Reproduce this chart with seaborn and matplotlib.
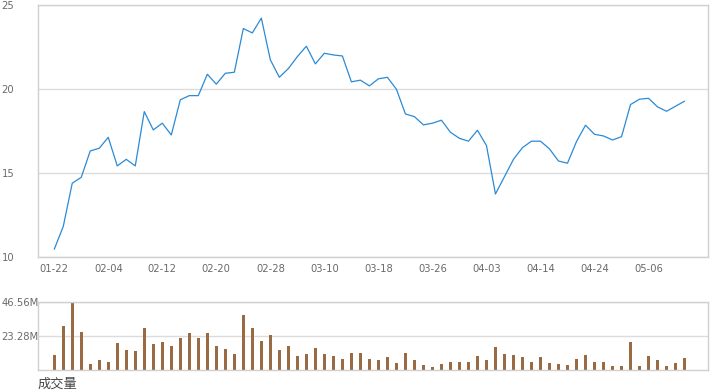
import numpy as np
import pandas as pd
import matplotlib
matplotlib.use('Agg')
import matplotlib.pyplot as plt
import seaborn as sns

# daily close price (71 trading days)
price = [10.44, 11.79, 14.37, 14.72, 16.29, 16.45, 17.10, 15.40, 15.79, 15.40,
         18.63, 17.54, 17.94, 17.24, 19.33, 19.58, 19.58, 20.85, 20.26, 20.91,
         20.97, 23.57, 23.31, 24.19, 21.71, 20.67, 21.19, 21.90, 22.52, 21.47,
         22.10, 22.00, 21.94, 20.40, 20.50, 20.16, 20.58, 20.67, 19.96, 18.49,
         18.33, 17.84, 17.94, 18.12, 17.40, 17.04, 16.87, 17.52, 16.61, 13.73,
         14.76, 15.79, 16.49, 16.87, 16.87, 16.41, 15.69, 15.56, 16.85, 17.82,
         17.28, 17.18, 16.94, 17.14, 19.05, 19.37, 19.42, 18.91, 18.65, 18.95,
         19.25]

# daily volume, millions
volume = [10.32, 30.28, 46.56, 26.15, 4.13, 6.88, 5.50, 18.58, 13.76, 13.07,
          28.90, 17.89, 19.27, 16.51, 22.02, 25.46, 22.02, 25.46, 16.51, 14.45,
          11.01, 37.84, 28.90, 19.95, 24.08, 13.76, 16.51, 9.63, 11.01, 15.14,
          11.01, 9.63, 7.57, 11.70, 11.70, 7.57, 6.88, 8.94, 4.82, 11.70,
          6.88, 3.44, 2.06, 4.13, 5.50, 5.50, 5.50, 9.63, 6.88, 15.83,
          11.01, 10.32, 8.94, 5.50, 8.94, 4.82, 4.13, 3.44, 7.57, 10.32,
          5.50, 5.50, 2.75, 2.75, 19.27, 2.75, 9.63, 6.88, 2.75, 4.82,
          8.26]

tick_labels = ['01-22', '02-04', '02-12', '02-20', '02-28', '03-10',
               '03-18', '03-26', '04-03', '04-14', '04-24', '05-06']

df = pd.DataFrame({'day': np.arange(len(price)), 'price': price, 'volume': volume})

sns.set_style('white')
plt.rcParams['font.family'] = ['DejaVu Sans', 'Noto Sans CJK SC']

fig = plt.figure(figsize=(7.2, 3.92), dpi=100)
ax1 = fig.add_axes([0.0528, 0.3452, 0.9305, 0.6433])
ax2 = fig.add_axes([0.0528, 0.0561, 0.9305, 0.1727])

line_color = '#2b8ad6'
bar_color = '#9a6a43'
grid_color = '#dcdcdc'
text_color = '#6a6a6a'

sns.lineplot(data=df, x='day', y='price', ax=ax1, color=line_color, linewidth=0.9)
ax1.set_xlim(-1.8, 72.6)
ax1.set_ylim(10, 25)
ax1.set_yticks([10, 15, 20, 25])
ax1.set_yticklabels(['10', '15', '20', '25'])
ax1.set_xticks(range(0, 71, 6))
ax1.set_xticklabels(tick_labels)
ax1.set_xlabel('')
ax1.set_ylabel('')

sns.barplot(data=df, x='day', y='volume', ax=ax2, color=bar_color, width=0.36,
            saturation=1, linewidth=0)
for p in ax2.patches:
    p.set_antialiased(False)
ax2.set_xlim(-1.8, 72.6)
ax2.set_ylim(0, 46.56)
ax2.set_yticks([23.28, 46.56])
ax2.set_yticklabels(['23.28M', '46.56M'])
ax2.set_xticks([])
ax2.set_xlabel('')
ax2.set_ylabel('')

for ax in (ax1, ax2):
    for s in ax.spines.values():
        s.set_visible(True)
        s.set_color('#d0d0d0')
        s.set_linewidth(1)
    ax.grid(axis='y', color=grid_color, linewidth=1)
    ax.grid(axis='x', visible=False)
    ax.tick_params(length=0, labelsize=7.2, labelcolor=text_color)
    for lab in ax.get_yticklabels():
        lab.set_horizontalalignment('left')

ax1.tick_params(axis='y', pad=26.3)
ax1.tick_params(axis='x', pad=5.5)
ax2.tick_params(axis='y', pad=26.6)

fig.text(38 / 720, 1 - 384 / 392, '成交量', fontsize=9.5, color='#444444',
         va='center', ha='left', family=['Noto Sans CJK SC', 'DejaVu Sans'])

fig.savefig('out.png', dpi=100)
